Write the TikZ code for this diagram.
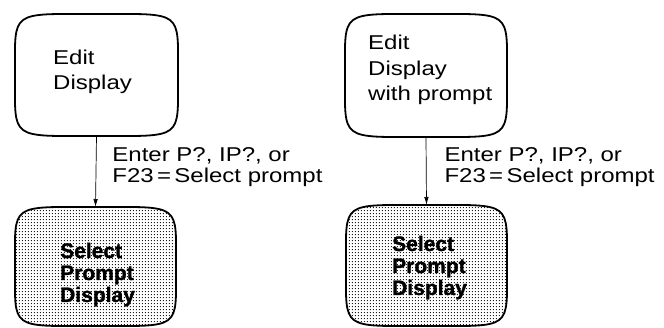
\documentclass[tikz,border=0pt]{standalone}
\usepackage{fontspec}
\setmainfont{Liberation Sans}
\newfontfamily\lblfont[FakeStretch=1.2]{Liberation Sans}
\newfontfamily\heavyfont[FakeBold=1.2]{Liberation Sans Bold}
\usetikzlibrary{patterns,patterns.meta,arrows.meta}
\tikzdeclarepattern{name=tvdots, type=uncolored,
  bounding box={(0pt,0pt) and (3.3pt,3.3pt)}, tile size={(3.3pt,3.3pt)},
  code={\pgfpathcircle{\pgfpoint{1.65pt}{1.65pt}}{0.7pt}\pgfusepath{fill}}}
\tikzset{
  tvline/.style={draw=black, line width=1.8pt},
  tvplain/.style={tvline, fill=white},
  tvdotted/.style={tvline, pattern=tvdots, pattern color=black},
  conn/.style={draw=black, line width=0.7pt, -{Latex[length=8pt,width=4.5pt]}},
  lbl/.style={font=\lblfont\fontsize{20}{21.5}\selectfont, align=left, inner sep=0pt},
  edittxt/.style={font=\lblfont\fontsize{20}{25.5}\selectfont, align=left, inner sep=0pt, anchor=base west},
  seltxt/.style={font=\heavyfont\fontsize{21}{22}\selectfont, align=left, inner sep=0pt, anchor=base west},
}
% #1 name, #2 x1, #3 y1, #4 x2, #5 y2, #6 style
\newcommand\tvbox[6]{%
  \pgfmathsetmacro\tvcx{(#2+#4)/2}%
  \pgfmathsetmacro\tvcy{(#3+#5)/2}%
  \pgfmathsetmacro\tvw{#4-#2}%
  \pgfmathsetmacro\tvh{#5-#3}%
  \pgfmathsetmacro\tvax{1.07*\tvw/2}%
  \pgfmathsetmacro\tvay{1.07*\tvh/2}%
  \node[inner sep=0pt, outer sep=0pt, minimum width=\tvw pt, minimum height=\tvh pt] (#1) at (\tvcx,\tvcy) {};
  \path[#6] (\tvcx,#3)
    .. controls (\tvcx+\tvax,#3) and (#4,\tvcy-\tvay) .. (#4,\tvcy)
    .. controls (#4,\tvcy+\tvay) and (\tvcx+\tvax,#5) .. (\tvcx,#5)
    .. controls (\tvcx-\tvax,#5) and (#2,\tvcy+\tvay) .. (#2,\tvcy)
    .. controls (#2,\tvcy-\tvay) and (\tvcx-\tvax,#3) .. (\tvcx,#3) -- cycle;
}
\begin{document}
\begin{tikzpicture}[x=1pt, y=-1pt]
\useasboundingbox (0,0) rectangle (664,328);
\tvbox{e1}{15}{14}{178}{136}{tvplain}
\tvbox{s1}{15}{207}{176}{326}{tvdotted}
\tvbox{e2}{345}{14}{507}{137}{tvplain}
\tvbox{s2}{346}{205}{507}{326}{tvdotted}

\node[edittxt] (e1t) at (53,90) {Edit\\Display};
\node[edittxt] (e2t) at (368,101) {Edit\\Display\\with prompt};
\node[seltxt] (s1t) at (60,302) {Select\\Prompt\\Display};
\node[seltxt] (s2t) at (392,295) {Select\\Prompt\\Display};

\draw[conn] (e1.south) -- node[lbl, anchor=west, pos=0.44, xshift=16pt] (l1) {Enter P?, IP?, or\\F23\,=\,Select prompt} (s1.north);
\draw[conn] (e2.south) -- node[lbl, anchor=west, pos=0.44, xshift=18pt] (l2) {Enter P?, IP?, or\\F23\,=\,Select prompt} (s2.north);
\end{tikzpicture}
\end{document}
